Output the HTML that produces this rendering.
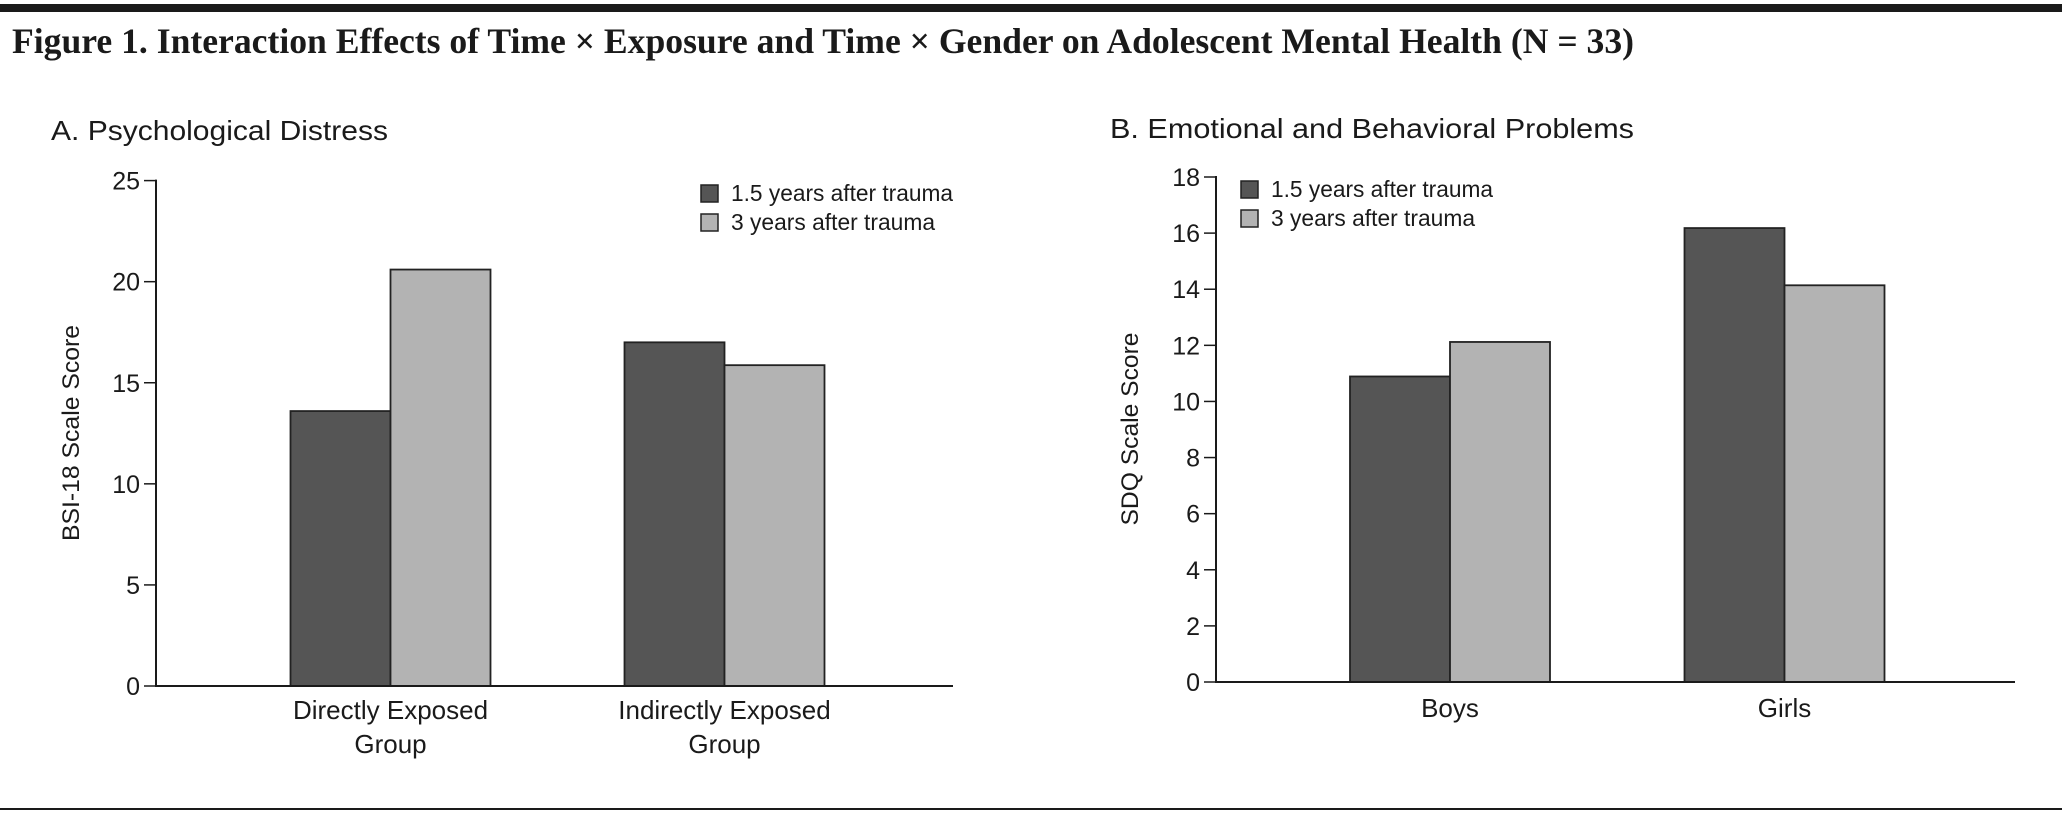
<!DOCTYPE html>
<html><head><meta charset="utf-8"><style>
html,body{margin:0;padding:0;background:#fff;}
svg{display:block;}
text{font-family:"Liberation Sans Narrow","Liberation Sans",sans-serif;fill:#1a1a1a;}
.serif{font-family:"Liberation Serif",serif;}
</style></head><body>
<svg id="fig" width="2062" height="818" viewBox="0 0 2062 818" xmlns="http://www.w3.org/2000/svg">
<rect x="0" y="4" width="2062" height="8" fill="#1a1a1a"/>
<text class="serif" x="12" y="53" font-size="36" font-weight="600" textLength="1622" lengthAdjust="spacingAndGlyphs">Figure 1. Interaction Effects of Time × Exposure and Time × Gender on Adolescent Mental Health (N = 33)</text>
<rect x="0" y="808" width="2062" height="2" fill="#1a1a1a"/>
<g id="panelA"></g>
<g id="panelB"></g>
</svg>
<script>
const seriesNames = ["1.5 years after trauma", "3 years after trauma"];
const catsA = [["Directly Exposed","Group"],["Indirectly Exposed","Group"]];
const earlyA = [13.6, 17.0];
const lateA = [20.6, 15.87];
const ticksA = [0,5,10,15,20,25];
const catsB = [["Boys"],["Girls"]];
const earlyB = [10.89, 16.18];
const lateB = [12.12, 14.14];
const ticksB = [0,2,4,6,8,10,12,14,16,18];

const NS = "http://www.w3.org/2000/svg";
function mk(parent, tag, attrs, text){
  const e = document.createElementNS(NS, tag);
  for (const k in attrs) e.setAttribute(k, attrs[k]);
  if (text !== undefined) e.textContent = text;
  parent.appendChild(e);
  return e;
}
const colors = ["#555555", "#b3b3b3"];

function drawPanel(g, cfg){
  const yScale = v => cfg.y0 - (v - cfg.yMin) / (cfg.yMax - cfg.yMin) * (cfg.y0 - cfg.yTop);
  const t = mk(g, "text", {x: cfg.titleX, y: cfg.titleY, "font-size": 28, textLength: cfg.titleLen, lengthAdjust: "spacingAndGlyphs"}, cfg.title);
  
  
  const yl = mk(g, "text", {x: 0, y: 0, "font-size": 24, "text-anchor": "middle", textLength: cfg.yLabLen, lengthAdjust: "spacingAndGlyphs", transform: `translate(${cfg.yLabX},${cfg.yLabY}) rotate(-90)`}, cfg.yLabel);
  
  
  cfg.ticks.forEach(v => {
    const y = yScale(v);
    const tk = mk(g, "line", {x1: cfg.axisX - 12, x2: cfg.axisX, y1: y, y2: y, stroke: "#1a1a1a", "stroke-width": 1.5});
    
    
    const tl = mk(g, "text", {x: cfg.axisX - 16, y: y + 9, "font-size": 25, "text-anchor": "end"}, String(v));
    
    
  });
  const series = [cfg.early, cfg.late];
  cfg.cats.forEach((c, i) => {
    const cx = cfg.catX(i);
    series.forEach((s, j) => {
      const x = j === 0 ? cx - cfg.barW : cx;
      const y = yScale(s[i]);
      const b = mk(g, "rect", {x: x, y: y, width: cfg.barW, height: cfg.y0 - y, fill: colors[j], stroke: "#222", "stroke-width": 1.8});
      
      
    });
    c.forEach((line, k) => {
      const xl = mk(g, "text", {x: cx, y: cfg.xLabY + k * 34, "font-size": 26, "text-anchor": "middle"}, line);
      
      
    });
  });
  const ya = mk(g, "line", {x1: cfg.axisX, x2: cfg.axisX, y1: cfg.yTop - 1, y2: cfg.y0 + 1, stroke: "#1a1a1a", "stroke-width": 2});
  
  
  const xa = mk(g, "line", {x1: cfg.axisX, x2: cfg.axisEnd, y1: cfg.y0, y2: cfg.y0, stroke: "#1a1a1a", "stroke-width": 2});
  
  
  seriesNames.forEach((n, j) => {
    const sy = cfg.legY + j * 29;
    const sw = mk(g, "rect", {x: cfg.legX, y: sy, width: 17, height: 17, fill: colors[j], stroke: "#222", "stroke-width": 1.5});
    
    
    const lt = mk(g, "text", {x: cfg.legX + 30, y: sy + 16, "font-size": 23, textLength: j === 0 ? 222 : 204, lengthAdjust: "spacingAndGlyphs"}, n);
    
    
  });
}

drawPanel(document.getElementById("panelA"), {
  title: "A. Psychological Distress", titleX: 51, titleY: 140, titleLen: 337,
  yLabel: "BSI-18 Scale Score", yLabX: 79, yLabY: 433, yLabLen: 216,
  axisX: 156, axisEnd: 953, y0: 686, yTop: 180.6, yMin: 0, yMax: 25,
  ticks: ticksA, cats: catsA, early: earlyA, late: lateA,
  catX: i => 390.5 + i * 334, barW: 100, xLabY: 719,
  legX: 701, legY: 185
});
drawPanel(document.getElementById("panelB"), {
  title: "B. Emotional and Behavioral Problems", titleX: 1110, titleY: 138, titleLen: 524,
  yLabel: "SDQ Scale Score", yLabX: 1138, yLabY: 429, yLabLen: 193,
  axisX: 1216, axisEnd: 2015, y0: 682, yTop: 177, yMin: 0, yMax: 18,
  ticks: ticksB, cats: catsB, early: earlyB, late: lateB,
  catX: i => 1450 + i * 334.5, barW: 100, xLabY: 717,
  legX: 1241, legY: 181
});
</script>
</body></html>
